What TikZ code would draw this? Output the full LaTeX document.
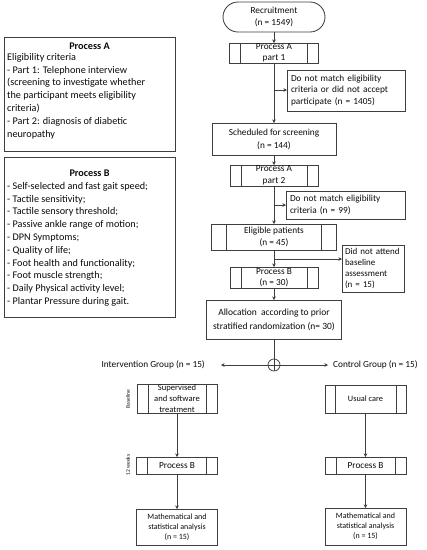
\documentclass[tikz,border=0pt]{standalone}
\usepackage{fontspec}
\setmainfont{Carlito}
\usetikzlibrary{arrows.meta,calc}
\definecolor{lc}{RGB}{62,62,62}
\definecolor{tx}{RGB}{10,10,10}
\tikzset{
  sz/.style 2 args={minimum width=#1, minimum height=#2},
  box/.style={draw=lc, line width=0.85pt, rectangle, inner sep=0pt, outer sep=0pt, align=center, text=tx,
    font=\fontsize{9.3}{11.5}\selectfont},
  arr/.style={draw=lc, line width=0.75pt, -{Stealth[length=3.5pt,width=3.5pt]}},
  plain/.style={draw=lc, line width=0.75pt},
  inner/.style={draw=lc, line width=0.85pt},
  lbl/.style={text=tx, inner sep=0pt, font=\fontsize{9.3}{11.5}\selectfont},
  big/.style={text=tx, inner sep=0pt, font=\fontsize{10.2}{12.8}\selectfont},
  bigb/.style={text=tx, inner sep=0pt, font=\bfseries\fontsize{10.2}{12.8}\selectfont},
  tiny/.style={text=tx, inner sep=0pt, rotate=90, font=\fontsize{5.5}{6}\selectfont}
}
\begin{document}
\begin{tikzpicture}[x=1pt,y=-1pt]
\useasboundingbox (0,0) rectangle (427,550);

% left boxes
\node[box, sz={171}{114}, anchor=north west] (boxa) at (4,37) {};
\node[bigb] (titlea) at (89.5,46) {Process A};
\node[big, anchor=north west, align=left] (texta) at (7,53) {Eligibility criteria\\
- Part 1: Telephone interview\\
(screening to investigate whether\\
the participant meets eligibility\\
criteria)\\
- Part 2: diagnosis of diabetic\\
neuropathy};

\node[box, sz={171}{160}, anchor=north west] (boxb) at (4,157) {};
\node[bigb] (titleb) at (89.5,173) {Process B};
\node[big, anchor=north west, align=left] (textb) at (7,182) {- Self-selected and fast gait speed;\\
- Tactile sensitivity;\\
- Tactile sensory threshold;\\
- Passive ankle range of motion;\\
- DPN Symptoms;\\
- Quality of life;\\
- Foot health and functionality;\\
- Foot muscle strength;\\
- Daily Physical activity level;\\
- Plantar Pressure during gait.};

% main column
\node[box, rounded corners=15pt, sz={102}{30}] (rec) at (274,17) {Recruitment\\(n = 1549)};
\node[box, sz={89}{20}] (pa1) at (274,53) {Process A\\part 1};
\node[box, sz={118}{41}, text width=110pt, align=left] (s1) at (346,90.5) {Do not match eligibility\\criteria or did not accept\\participate (n = 1405)};
\node[box, sz={124}{32}, font=\fontsize{9.3}{13}\selectfont] (sch) at (274,139) {Scheduled for screening\\(n = 144)};
\node[box, sz={88}{21}] (pa2) at (274,175.5) {Process A\\part 2};
\node[box, sz={119}{28}, text width=111pt, align=left] (s2) at (345.5,205) {Do not match eligibility\\criteria (n = 99)};
\node[box, sz={125}{26}] (el) at (274,237) {Eligible patients\\(n = 45)};
\node[box, sz={62}{47}, text width=56pt, align=left, font=\fontsize{9}{11}\selectfont] (s3) at (373,268.5) {Did not attend\\baseline\\assessment\\(n = 15)};
\node[box, sz={88}{21}] (pb30) at (274,277.5) {Process B\\(n = 30)};
\node[box, sz={135}{39}, font=\fontsize{9.5}{14}\selectfont] (al) at (274,319.5) {Allocation\ \ according to prior\\stratified randomization (n= 30)};

\node[draw=lc, line width=0.75pt, circle, minimum size=12pt, inner sep=0pt, outer sep=0pt] (j) at (274,365) {};
\draw[plain] (j.north) -- (j.south) (j.west) -- (j.east);
\coordinate (il) at (221,365);
\coordinate (cr) at (328,365);
\node[lbl, anchor=east] (ig) at (205,365) {Intervention Group (n = 15)};
\node[lbl, anchor=west] (cg) at (333,365) {Control Group (n = 15)};

% groups
\node[box, sz={80}{29}, font=\fontsize{8.6}{11}\selectfont] (sup) at (177,398.5) {Supervised\\and software\\treatment};
\node[box, sz={81}{28}, font=\fontsize{8.3}{10}\selectfont] (usu) at (365.5,399) {Usual care};
\node[box, sz={81}{17}] (pbl) at (177,465.5) {Process B};
\node[box, sz={81}{17}] (pbr) at (365.5,465.5) {Process B};
\node[box, sz={81}{36}, font=\fontsize{8}{9.8}\selectfont] (mal) at (177,527) {Mathematical and\\statistical analysis\\(n = 15)};
\node[box, sz={81}{37}, font=\fontsize{8}{9.8}\selectfont] (mar) at (365.5,526.5) {Mathematical and\\statistical analysis\\(n = 15)};
\node[tiny] (bl) at (128,399) {Baseline};
\node[tiny] (wk) at (128,465) {12 weeks};

% inner vertical bars of predefined-process boxes
\foreach \n/\o in {pa1/11, pa2/11, el/15, pb30/11, sup/11, usu/10, pbl/11, pbr/11} {
  \draw[inner] ([xshift=\o pt]\n.north west) -- ([xshift=\o pt]\n.south west)
               ([xshift=-\o pt]\n.north east) -- ([xshift=-\o pt]\n.south east);
}

% connectors
\draw[arr] (rec) -- (pa1);
\draw[arr] (pa1) -- (sch);
\coordinate (b1) at (274,90);
\draw[arr] (b1) -- (b1 -| s1.west);
\draw[arr] (sch) -- (pa2);
\draw[arr] (pa2) -- (el);
\coordinate (b2) at (274,205);
\draw[arr] (b2) -- (b2 -| s2.west);
\draw[arr] (el) -- (pb30);
\coordinate (b3) at (274,259);
\draw[arr] (b3) -- (b3 -| s3.west);
\draw[arr] (pb30) -- (al);
\draw[plain] (al) -- (j);
\draw[arr] (j) -- (il);
\draw[arr] (j) -- (cr);
\draw[arr] (sup) -- (pbl);
\draw[arr] (pbl) -- (mal);
\draw[arr] (usu) -- (pbr);
\draw[arr] (pbr) -- (mar);
\end{tikzpicture}
\end{document}
